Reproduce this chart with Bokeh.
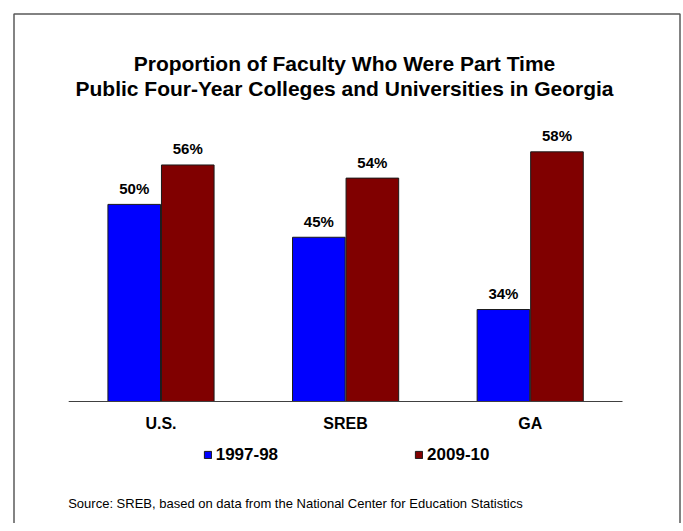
import numpy as np
from bokeh.plotting import figure
from bokeh.models import ColumnDataSource, Range1d, Label, Legend, LegendItem
from bokeh.core.properties import value
from bokeh.embed import file_html
from bokeh.resources import INLINE

# ---------------- data ----------------
categories = ["U.S.", "SREB", "GA"]
years = ["1997-98", "2009-10"]
share_1997_98 = [50, 45, 34]
share_2009_10 = [56, 54, 58]
axis_floor = 20  # value axis of the original starts near 20%

title_lines = ["Proportion of Faculty Who Were Part Time",
               "Public Four-Year Colleges and Universities in Georgia"]
source_note = "Source: SREB, based on data from the National Center for Education Statistics"

# ---------------- layout ----------------
FONT = "Liberation Sans"
OFF = 0                # page offset of the canvas
W, H = 683, 523
PX_PER_CAT = 184.6     # px between category centres
CAT0_X = 160.5 - OFF   # canvas px of first category centre
PX_PER_PCT = 6.57      # px per percentage point
BASE_Y = H - (401 - OFF)  # canvas px (from bottom) of the axis floor

xs0 = -CAT0_X / PX_PER_CAT
xs1 = (W - CAT0_X) / PX_PER_CAT
ys0 = axis_floor - BASE_Y / PX_PER_PCT
ys1 = axis_floor + (H - BASE_Y) / PX_PER_PCT


def X(page_x):
    return ((page_x - OFF) - CAT0_X) / PX_PER_CAT


def Y(page_y):
    return ys0 + (H - (page_y - OFF)) / PX_PER_PCT


p = figure(width=W, height=H, output_backend="svg", toolbar_location=None,
           x_range=Range1d(xs0, xs1), y_range=Range1d(ys0, ys1),
           x_axis_location=None, y_axis_location=None,
           min_border=0, min_border_left=0, min_border_right=0,
           min_border_top=0, min_border_bottom=0)
p.xgrid.grid_line_color = None
p.ygrid.grid_line_color = None
p.outline_line_color = None
p.background_fill_color = "white"
p.border_fill_color = "white"

# outer border (left, top, right)
p.line(x=[X(13.5), X(13.5), X(679.5), X(679.5)],
       y=[Y(560), Y(13.5), Y(13.5), Y(560)],
       line_color="#5a5a5a", line_width=1.5)

idx = np.arange(len(categories))
off = 0.145
bw = 0.285
src = ColumnDataSource(dict(
    xa=idx - off, xb=idx + off,
    va=share_1997_98, vb=share_2009_10,
    ta=[f"{v}%" for v in share_1997_98], tb=[f"{v}%" for v in share_2009_10],
))

r1 = p.vbar(x="xa", top="va", bottom=axis_floor, width=bw, source=src,
            fill_color="#0000FF", line_color="#1a1a1a", line_width=1)
r2 = p.vbar(x="xb", top="vb", bottom=axis_floor, width=bw, source=src,
            fill_color="#800000", line_color="#1a1a1a", line_width=1)

# category axis line
p.segment(x0=[idx[0] - 0.5], y0=[axis_floor], x1=[idx[-1] + 0.5], y1=[axis_floor],
          line_color="#404040", line_width=1.2)

lbl_kw = dict(text_align="center", text_baseline="middle", y_offset=-16.1,
              text_font=value(FONT), text_font_style="bold", text_font_size="15px",
              text_color="#000000")
p.text(x="xa", y="va", text="ta", source=src, **lbl_kw)
p.text(x="xb", y="vb", text="tb", source=src, **lbl_kw)

# category labels
p.text(x=idx, y=[axis_floor] * len(categories), text=categories,
       text_align="center", text_baseline="middle", y_offset=22,
       text_font=value(FONT), text_font_style="bold", text_font_size="16px",
       text_color="#000000")

# titles
for line, mid in zip(title_lines, [63.2, 87.5]):
    p.add_layout(Label(x=X(344), y=Y(mid), text=line, text_align="center",
                       text_baseline="middle", text_font=FONT,
                       text_font_style="bold", text_font_size="21px",
                       text_color="#000000"))

p.add_layout(Label(x=X(67.7), y=Y(503), text=source_note, text_align="left",
                   text_baseline="middle", text_font=FONT,
                   text_font_size="13px", text_color="#000000"))

legend = Legend(items=[LegendItem(label=years[0], renderers=[r1]),
                       LegendItem(label=years[1], renderers=[r2])],
                location=(202.7 - OFF, H - (464.7 - OFF)), orientation="horizontal",
                glyph_width=9, glyph_height=9, label_height=9, label_width=20,
                label_standoff=4, spacing=136, padding=0, margin=0,
                border_line_color=None, background_fill_alpha=0,
                label_text_font=FONT, label_text_font_style="bold",
                label_text_font_size="17px", label_text_color="#000000")
p.add_layout(legend)

open("out.html", "w").write(file_html(p, INLINE))
